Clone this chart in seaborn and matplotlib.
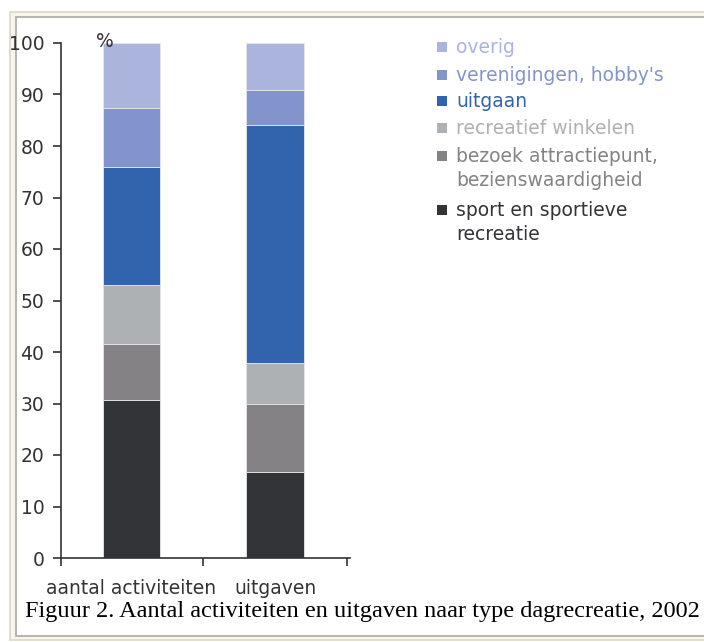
import pandas as pd
import matplotlib.pyplot as plt
import numpy as np
import seaborn as sns
from matplotlib.patches import Rectangle

sns.set_style('white')
plt.rcParams['font.family'] = ['DejaVu Sans']

# data (percent shares)
categories = ['aantal activiteiten', 'uitgaven']
series = ['sport en sportieve\nrecreatie', 'bezoek attractiepunt,\nbezienswaardigheid',
          'recreatief winkelen', 'uitgaan', 'verenigingen, hobby\'s', 'overig']
sport = [30.7, 16.7]
bezoek = [10.9, 13.3]
winkelen = [11.5, 7.9]
uitgaan = [22.8, 46.2]
verenigingen = [11.4, 6.8]
overig = [12.7, 9.1]
colors = ['#323438', '#848285', '#adb1b4', '#3264ae', '#8394cc', '#aab4dc']

values = [sport, bezoek, winkelen, uitgaan, verenigingen, overig]

W, H = 704, 642
fig = plt.figure(figsize=(7.04, 6.42), dpi=100)

# page frame
fig.patches.append(Rectangle((10 / W, 1 - 640 / H), 700 / W, 628 / H, transform=fig.transFigure,
                             facecolor='#f7f5ec', edgecolor='#dcd8c2', linewidth=1.2, zorder=-3))
fig.patches.append(Rectangle((16 / W, 1 - 636 / H), 700 / W, 619 / H, transform=fig.transFigure,
                             facecolor='white', edgecolor='#a9a9a2', linewidth=1.2, zorder=-2))

ax = fig.add_axes([61 / W, 1 - 558 / H, 289 / W, 515 / H])
ax.patch.set_alpha(0)

bottom = np.zeros(len(categories))
for name, vals, col in zip(series, values, colors):
    sns.barplot(x=categories, y=vals, bottom=bottom, color=col, width=0.4, saturation=1,
                edgecolor='#e4e6ea', linewidth=0.6, ax=ax)
    bottom = bottom + np.array(vals)

ax.set_xlim(-0.49, 1.52)
ax.set_ylim(0, 100)
ax.set_yticks(range(0, 101, 10))
ax.set_xticks([-0.49, 0.5, 1.5])
ax.set_xticklabels([])
ax.tick_params(axis='both', direction='out', length=6, width=1.2, color='#333333',
               labelsize=13.5, labelcolor='#333333', pad=6)
ax.tick_params(axis='y', left=True)
ax.tick_params(axis='x', bottom=True)
for i, c in enumerate(categories):
    ax.text(i, -4.0, c, ha='center', va='top', fontsize=13.5, color='#333333')
for s in ['top', 'right']:
    ax.spines[s].set_visible(False)
for s in ['left', 'bottom']:
    ax.spines[s].set_color('#333333')
    ax.spines[s].set_linewidth(1.2)
ax.set_xlabel('')
ax.set_ylabel('')
ax.text(0.12, 100.3, '%', ha='left', va='center', fontsize=13.5, color='#333333',
        transform=ax.get_yaxis_transform())

# legend, top to bottom, square aligned with the first text line
legend_y = [47, 75, 101, 128, 156, 210]
for name, col, yy in zip(series[::-1], colors[::-1], legend_y):
    fig.patches.append(Rectangle((437 / W, 1 - (yy + 5) / H), 10 / W, 10 / H, transform=fig.transFigure,
                                 facecolor=col, edgecolor='none'))
    fig.text(456 / W, 1 - (yy - 9) / H, name, ha='left', va='top', fontsize=13.5,
             color=col, linespacing=1.33)

fig.text(25 / W, 1 - 611 / H, 'Figuur 2. Aantal activiteiten en uitgaven naar type dagrecreatie, 2002',
         ha='left', va='center', fontsize=17.5, family=['Liberation Serif'], color='black')

fig.savefig('out.png', dpi=100)
